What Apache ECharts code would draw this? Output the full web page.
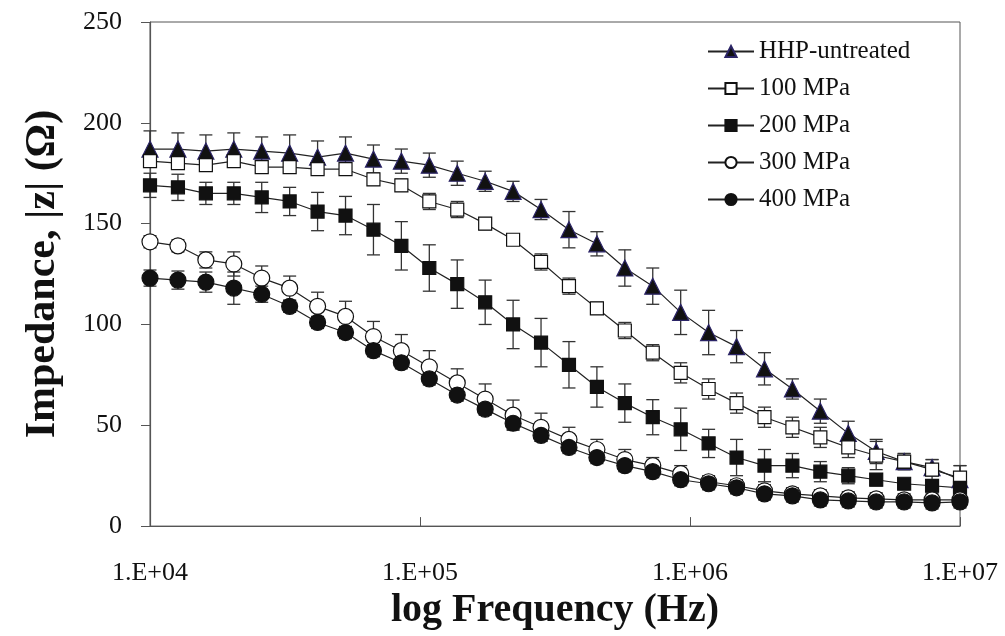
<!DOCTYPE html>
<html>
<head>
<meta charset="utf-8">
<title>Impedance vs log frequency</title>
<script src="https://cdn.jsdelivr.net/npm/echarts@6/dist/echarts.min.js"></script>
<style>
  html, body { margin: 0; padding: 0; background: #fff; }
  #chart { width: 1005px; height: 636px; }
</style>
</head>
<body>
<div id="chart"></div>
<script>
// frequencies (Hz), 30 points evenly spaced on the log scale
var freqs = [10000, 12690, 16103, 20434, 25929, 32903, 41753, 52983, 67233, 85316,
  108263, 137382, 174332, 221220, 280720, 356223, 452032, 573610, 727888, 923660,
  1172090, 1487340, 1887390, 2395040, 3039210, 3856640, 4893930, 6210190, 7880470, 10000000];

var seriesNames = ['HHP-untreated', '100 MPa', '200 MPa', '300 MPa', '400 MPa'];

// |z| in ohm
var untreated = [187, 187, 186, 187, 186, 185, 183, 185, 182, 181, 179, 175, 171, 166, 157, 147, 140, 128, 119, 106, 96, 89, 78, 68, 57, 46, 37, 32, 29, 23];
var mpa100 = [181, 180, 179, 181, 178, 178, 177, 177, 172, 169, 161, 157, 150, 142, 131, 119, 108, 97, 86, 76, 68, 61, 54, 49, 44, 39, 35, 32, 28, 24];
var mpa200 = [169, 168, 165, 165, 163, 161, 156, 154, 147, 139, 128, 120, 111, 100, 91, 80, 69, 61, 54, 48, 41, 34, 30, 30, 27, 25, 23, 21, 20, 19];
var mpa300 = [141, 139, 132, 130, 123, 118, 109, 104, 94, 87, 79, 71, 63, 55, 49, 43, 38, 33, 30, 26, 22, 20, 17.5, 16, 15, 14, 13.5, 13, 13, 13];
var mpa400 = [123, 122, 121, 118, 115, 109, 101, 96, 87, 81, 73, 65, 58, 51, 45, 39, 34, 30, 27, 23, 21, 19, 16, 15, 13, 12.5, 12, 12, 11.5, 12];

// error (+/-) for each point
var untreatedErr = [9, 8, 8, 8, 7, 9, 8, 8, 7, 6, 6, 6, 5, 5, 5, 9, 6, 9, 9, 11, 11, 8, 8, 5, 6, 6, 6, 4, 4, 7];
var mpa100Err = [3, 3, 3, 3, 3, 3, 3, 3, 3, 3, 4, 4, 3, 2, 4, 4, 3, 4, 4, 5, 5, 5, 5, 5, 5, 5, 7, 4, 5, 6];
var mpa200Err = [6, 6.5, 5.5, 5.5, 7.5, 7, 9.5, 9.5, 12.5, 12, 11.5, 12, 11, 12, 12, 11.5, 10, 9.5, 8.7, 10.5, 7, 9, 8, 6, 5, 4, 3, 2, 3, 3];
var mpa300Err = [3, 3, 4, 6, 6, 6, 7, 7.5, 7.5, 8, 8, 7, 7.5, 7.5, 7, 6, 5, 5, 4, 4, 3, 3, 3, 3, 3, 3, 3, 3, 3, 3];
var mpa400Err = [4, 4.5, 5, 8, 4, 3, 3, 3, 3, 3, 3, 3, 3, 3, 3, 3, 3, 3, 3, 3, 3, 3, 3, 3, 3, 3, 3, 3, 3, 3];

var xTicks = ['1.E+04', '1.E+05', '1.E+06', '1.E+07'];

var allValues = [untreated, mpa100, mpa200, mpa300, mpa400];
var allErrors = [untreatedErr, mpa100Err, mpa200Err, mpa300Err, mpa400Err];

// marker look per series
var markers = [
  { symbol: 'triangle', size: 16, fill: '#111', border: '#2b2466' },
  { symbol: 'rect', size: 13, fill: '#fff', border: '#111' },
  { symbol: 'rect', size: 13, fill: '#111', border: '#111' },
  { symbol: 'circle', size: 16, fill: '#fff', border: '#111' },
  { symbol: 'circle', size: 16, fill: '#111', border: '#111' }
];

var serif = '"Liberation Serif", "Times New Roman", serif';

function errorBarItem(params, api) {
  var x = api.value(0);
  var lo = api.coord([x, api.value(1)]);
  var hi = api.coord([x, api.value(2)]);
  var cap = 6.5;
  var style = { stroke: '#333', lineWidth: 1.3 };
  return {
    type: 'group',
    children: [
      { type: 'line', shape: { x1: hi[0], y1: hi[1], x2: lo[0], y2: lo[1] }, style: style },
      { type: 'line', shape: { x1: hi[0] - cap, y1: hi[1], x2: hi[0] + cap, y2: hi[1] }, style: style },
      { type: 'line', shape: { x1: lo[0] - cap, y1: lo[1], x2: lo[0] + cap, y2: lo[1] }, style: style }
    ]
  };
}

var series = [];
seriesNames.forEach(function(name, k) {
  var vals = allValues[k];
  var errs = allErrors[k];
  series.push({
    name: name + ' err',
    type: 'custom',
    renderItem: errorBarItem,
    data: freqs.map(function(f, i) { return [f, vals[i] - errs[i], vals[i] + errs[i]]; }),
    z: 1,
    silent: true,
    encode: { x: 0, y: [1, 2] }
  });
});
seriesNames.forEach(function(name, k) {
  var m = markers[k];
  series.push({
    name: name,
    type: 'line',
    data: freqs.map(function(f, i) { return [f, allValues[k][i]]; }),
    symbol: m.symbol,
    symbolSize: m.size,
    showAllSymbol: true,
    lineStyle: { color: '#222', width: 1.2 },
    itemStyle: { color: m.fill, borderColor: m.border, borderWidth: 1.2, opacity: 1 },
    z: 3
  });
});

var chart = echarts.init(document.getElementById('chart'));
chart.setOption({
  backgroundColor: '#fff',
  animation: false,
  textStyle: { fontFamily: serif },
  grid: {
    left: 150, right: 45, top: 22, bottom: 106,
    show: true, borderColor: '#555', borderWidth: 1
  },
  legend: {
    data: seriesNames,
    orient: 'vertical',
    left: 702,
    top: 34,
    itemGap: 12,
    itemWidth: 46,
    itemHeight: 14,
    textStyle: { fontFamily: serif, fontSize: 25, lineHeight: 24, color: '#111' }
  },
  xAxis: {
    type: 'log',
    logBase: 10,
    min: 1e4,
    max: 1e7,
    name: 'log Frequency (Hz)',
    nameLocation: 'middle',
    nameGap: 62,
    nameTextStyle: { fontFamily: serif, fontSize: 40, fontWeight: 'bold', color: '#111' },
    axisLine: { lineStyle: { color: '#555', width: 1.2 } },
    axisTick: { inside: true, length: 9, lineStyle: { color: '#555' } },
    minorTick: { show: false },
    splitLine: { show: false },
    axisLabel: {
      margin: 34,
      fontSize: 26,
      color: '#111',
      fontFamily: serif,
      formatter: function(v) {
        return xTicks[Math.round(Math.log10(v)) - 4];
      }
    }
  },
  yAxis: {
    type: 'value',
    min: 0,
    max: 250,
    interval: 50,
    name: 'Impedance, |z| (\u03A9)',
    nameLocation: 'middle',
    nameGap: 86,
    nameTextStyle: { fontFamily: serif, fontSize: 42, fontWeight: 'bold', color: '#111' },
    axisLine: { show: true, lineStyle: { color: '#555', width: 1.2 } },
    axisTick: { show: true, inside: false, length: 9, lineStyle: { color: '#555' } },
    splitLine: { show: false },
    axisLabel: { margin: 28, fontSize: 26, color: '#111', fontFamily: serif }
  },
  series: series
});
</script>
</body>
</html>
